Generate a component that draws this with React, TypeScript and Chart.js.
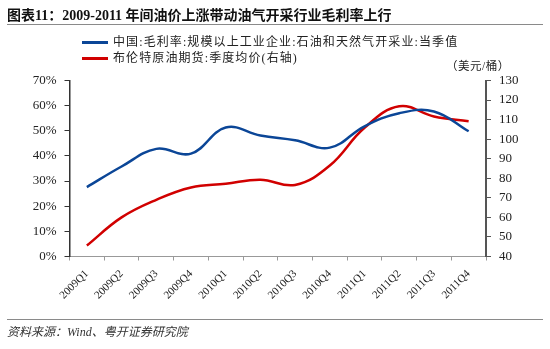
import React, { useEffect, useRef } from "react";
import { Chart, registerables } from "chart.js";

Chart.register(...registerables);

const categories = ["2009Q1","2009Q2","2009Q3","2009Q4","2010Q1","2010Q2","2010Q3","2010Q4","2011Q1","2011Q2","2011Q3","2011Q4"];
const marginSeries = [27.6, 35.8, 42.8, 40.9, 51.3, 48.1, 46.2, 43.3, 51.8, 57.0, 57.7, 49.8];
const brentSeries = [45.6, 60.0, 69.0, 75.3, 77.2, 79.3, 76.6, 86.5, 105.8, 116.8, 111.6, 109.2];
const seriesNames = ["中国:毛利率:规模以上工业企业:石油和天然气开采业:当季值", "布伦特原油期货:季度均价(右轴)"];
const titleText = "图表11：2009-2011 年间油价上涨带动油气开采行业毛利率上行";
const sourceText = "资料来源：Wind、粤开证券研究院";
const unitText = "（美元/桶）";

const BLUE = "#0b4697";
const RED = "#d10000";
const SERIF = "'Liberation Serif', 'Noto Sans CJK SC', serif";

export default function App() {
  const ref = useRef<HTMLCanvasElement | null>(null);
  useEffect(() => {
    if (!ref.current) return;
    const chart = new Chart(ref.current, {
      type: "line",
      data: {
        labels: categories,
        datasets: [
          { label: seriesNames[0], data: marginSeries, borderColor: BLUE, borderWidth: 2.5, pointRadius: 0, tension: 0.4, yAxisID: "y", fill: false },
          { label: seriesNames[1], data: brentSeries, borderColor: RED, borderWidth: 2.5, pointRadius: 0, tension: 0.4, yAxisID: "y1", fill: false },
        ],
      },
      options: {
        animation: false,
        responsive: false,
        layout: { padding: { top: 80.5, left: 0, right: 0, bottom: 0 } },
        plugins: { legend: { display: false }, tooltip: { enabled: false }, title: { display: false } },
        scales: {
          x: {
            offset: true,
            grid: { offset: true, drawOnChartArea: false, drawTicks: true, tickLength: 4, color: "#999" },
            border: { display: true, color: "#999", width: 1 },
            ticks: { minRotation: 45, maxRotation: 45, autoSkip: false, padding: 7, color: "#222", font: { family: SERIF, size: 11 } },
            afterFit: (s: any) => { s.height = 92.5; },
          },
          y: {
            position: "left",
            min: 0, max: 70,
            ticks: { stepSize: 10, padding: 8, color: "#222", font: { family: SERIF, size: 13 }, callback: (v: any) => v + "%" },
            grid: { drawOnChartArea: false, drawTicks: true, tickLength: 5, color: "#333" },
            border: { display: true, color: "#333", width: 1.5 },
            afterFit: (s: any) => { s.width = 69.5; },
          },
          y1: {
            position: "right",
            min: 40, max: 130,
            ticks: { stepSize: 10, padding: 8, color: "#222", font: { family: SERIF, size: 13 } },
            grid: { drawOnChartArea: false, drawTicks: true, tickLength: 5, color: "#555" },
            border: { display: true, color: "#555", width: 2 },
            afterFit: (s: any) => { s.width = 64; },
          },
        },
      },
    });
    return () => chart.destroy();
  }, []);

  const abs = (o: any): React.CSSProperties => ({ position: "absolute", whiteSpace: "nowrap", ...o });

  return (
    <div style={{ position: "absolute", left: 0, top: 0, width: 550, height: 349, background: "#fff", overflow: "hidden" }}>
      <canvas ref={ref} width={550} height={349} style={{ position: "absolute", left: 0, top: 0, width: 550, height: 349 }} />
      <div style={abs({ left: 7, top: 7, lineHeight: "18px", fontSize: 14, fontWeight: "bold", fontFamily: SERIF, color: "#111" })}>{titleText}</div>
      <div style={abs({ left: 7, top: 24, width: 536, height: 1, background: "#8a8a8a" })} />
      <div style={abs({ left: 82, top: 40.5, width: 26, height: 3, background: BLUE })} />
      <div style={abs({ left: 113, top: 33.5, lineHeight: "16px", fontSize: 12, letterSpacing: "1.1px", fontFamily: SERIF, color: "#222" })}>{seriesNames[0]}</div>
      <div style={abs({ left: 82, top: 56.5, width: 26, height: 3, background: RED })} />
      <div style={abs({ left: 113, top: 49.5, lineHeight: "16px", fontSize: 12, letterSpacing: "1.1px", fontFamily: SERIF, color: "#222" })}>{seriesNames[1]}</div>
      <div style={abs({ left: 446, top: 58, lineHeight: "16px", fontSize: 11.5, letterSpacing: "0.5px", fontFamily: SERIF, color: "#222" })}>{unitText}</div>
      <div style={abs({ left: 7, top: 319, width: 536, height: 1, background: "#8a8a8a" })} />
      <div style={abs({ left: 7, top: 324, lineHeight: "16px", fontSize: 12, fontStyle: "italic", fontFamily: SERIF, color: "#333" })}>{sourceText}</div>
    </div>
  );
}
